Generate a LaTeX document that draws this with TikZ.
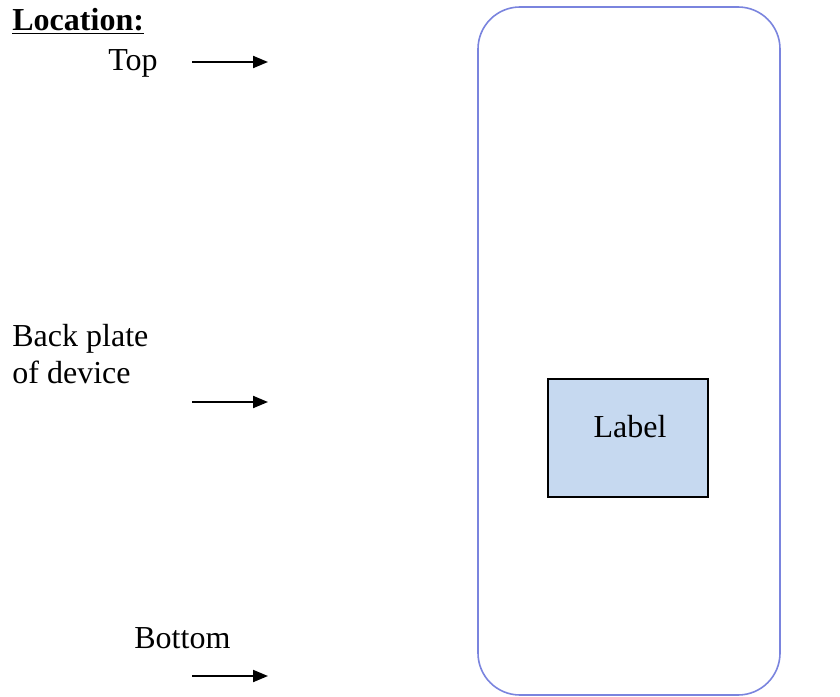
\documentclass[tikz,border=0pt]{standalone}
\usepackage{fontspec}
\setmainfont{Liberation Serif}
\usetikzlibrary{arrows.meta}
\definecolor{platecol}{RGB}{122,132,222}
\definecolor{labelfill}{RGB}{198,217,240}
\tikzset{
  pointer/.style={line width=1pt, -{Triangle[length=7.5pt,width=6pt]}},
  caption/.style={inner sep=0pt, anchor=base west, font=\fontsize{16}{18.5}\selectfont},
}
\begin{document}
\begin{tikzpicture}[x=0.5pt,y=-0.5pt]
    \useasboundingbox (0,0) rectangle (840,696);
    % back plate of the device
    \draw[platecol, line width=0.8pt, rounded corners=21pt] (478,7) rectangle (780,695);
    \node[draw, line width=0.8pt, fill=labelfill, minimum width=80pt, minimum height=59pt, anchor=north west] (label) at (547,378) {};
    \node[caption, anchor=base] (labeltext) at (630,437) {Label};
    % captions on the left
    \node[caption, font=\fontsize{16}{18.5}\selectfont\bfseries] (loc) at (12,30) {\underline{Location:}};
    \node[caption] (top) at (108,70) {Top};
    \node[caption, align=left, anchor=north west] (back) at (12,324) {Back plate\\of device};
    \node[caption] (bottom) at (134,648) {Bottom};
    % pointers
    \coordinate (topA) at (192,62);     \coordinate (topB) at (268,62);
    \coordinate (backA) at (192,402);   \coordinate (backB) at (268,402);
    \coordinate (botA) at (192,676);    \coordinate (botB) at (268,676);
    \draw[pointer] (topA) -- (topB);
    \draw[pointer] (backA) -- (backB);
    \draw[pointer] (botA) -- (botB);
\end{tikzpicture}
\end{document}
